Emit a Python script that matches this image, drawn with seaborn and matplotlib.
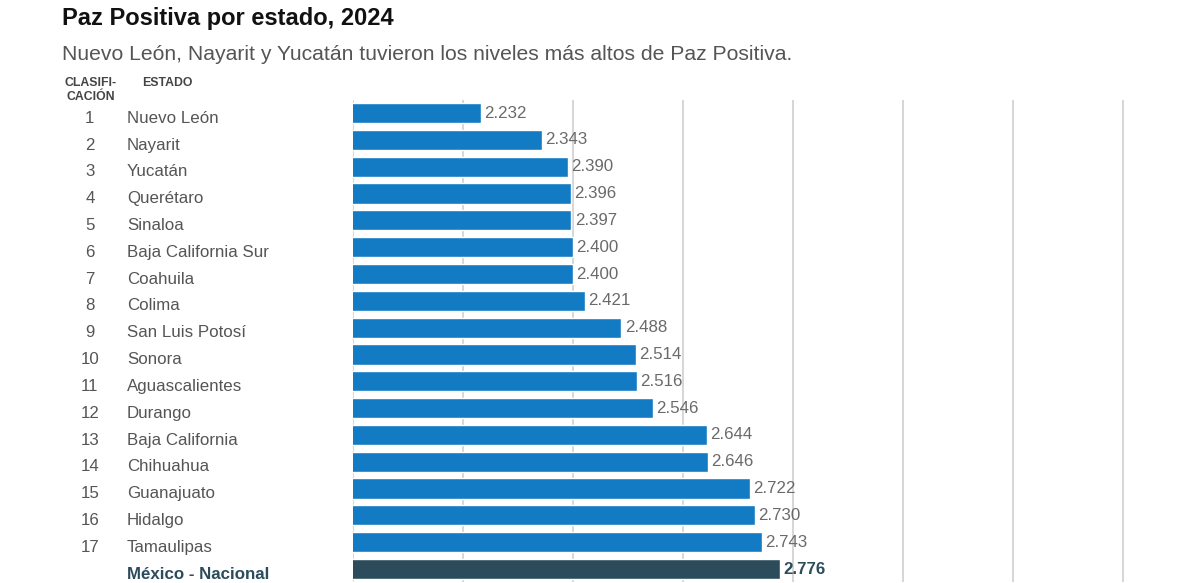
import matplotlib
matplotlib.use("Agg")
import matplotlib.pyplot as plt
import seaborn as sns
import pandas as pd

ranks = ["1", "2", "3", "4", "5", "6", "7", "8", "9", "10", "11", "12", "13", "14", "15", "16", "17", ""]
states = ["Nuevo León", "Nayarit", "Yucatán", "Querétaro", "Sinaloa", "Baja California Sur",
          "Coahuila", "Colima", "San Luis Potosí", "Sonora", "Aguascalientes", "Durango",
          "Baja California", "Chihuahua", "Guanajuato", "Hidalgo", "Tamaulipas", "México - Nacional"]
values = [2.232, 2.343, 2.390, 2.396, 2.397, 2.400, 2.400, 2.421, 2.488, 2.514, 2.516, 2.546,
          2.644, 2.646, 2.722, 2.730, 2.743, 2.776]
x_ticks = [2.0, 2.2, 2.4, 2.6, 2.8, 3.0, 3.2, 3.4]

BLUE = "#127bc4"
DARK = "#2c4c5c"

sns.set_theme(style="white")
plt.rcParams["font.family"] = ["Liberation Sans", "DejaVu Sans"]

df = pd.DataFrame({"estado": states, "valor": values})
palette = {s: (DARK if s == "México - Nacional" else BLUE) for s in states}

fig = plt.figure(figsize=(12, 5.83), dpi=100)
ax = fig.add_axes([353 / 1200, 0.001, 825 / 1200, 0.828])

sns.barplot(data=df, y="estado", x="valor", hue="estado", palette=palette, legend=False,
            orient="h", width=0.75, ax=ax, saturation=1, zorder=3)

ax.set_xlim(2.0, 3.5)
ax.set_ylim(len(states) - 0.5, -0.5)
ax.set_xticks(x_ticks)
ax.xaxis.grid(True, color="#d6d6d6", linewidth=1.4, zorder=0)
ax.set_axisbelow(True)
ax.set_xticklabels([])
ax.set_yticks([])
ax.set_xlabel("")
ax.set_ylabel("")
ax.tick_params(length=0)
for sp in ax.spines.values():
    sp.set_visible(False)

tr = ax.get_yaxis_transform()
for i, (r, s, v) in enumerate(zip(ranks, states, values)):
    nat = s == "México - Nacional"
    ax.text(v + 0.006, i, f"{v:.3f}", va="center", ha="left", fontsize=12.2,
            color=DARK if nat else "#6a6a6a", fontweight="bold" if nat else "normal")
    ax.text(-0.319, i + 0.19, r, transform=tr, va="center", ha="center", fontsize=12.2, color="#555555",
            clip_on=False)
    ax.text(-0.274, i + 0.19, s, transform=tr, va="center", ha="left", fontsize=12.2,
            color=DARK if nat else "#555555", fontweight="bold" if nat else "normal", clip_on=False)

fig.text(62 / 1200, 1 - 19 / 583, "Paz Positiva por estado, 2024", fontsize=17, fontweight="bold",
         color="#111111", va="center", ha="left")
fig.text(62 / 1200, 1 - 54 / 583, "Nuevo León, Nayarit y Yucatán tuvieron los niveles más altos de Paz Positiva.",
         fontsize=15.2, color="#555555", va="center", ha="left")
fig.text(91 / 1200, 1 - 90 / 583, "CLASIFI-\nCACIÓN", fontsize=8.8, fontweight="bold", color="#444444",
         va="center", ha="center", linespacing=1.25)
fig.text(142 / 1200, 1 - 83 / 583, "ESTADO", fontsize=8.8, fontweight="bold", color="#444444",
         va="center", ha="left")

fig.savefig("out.png", dpi=100, facecolor="white")
